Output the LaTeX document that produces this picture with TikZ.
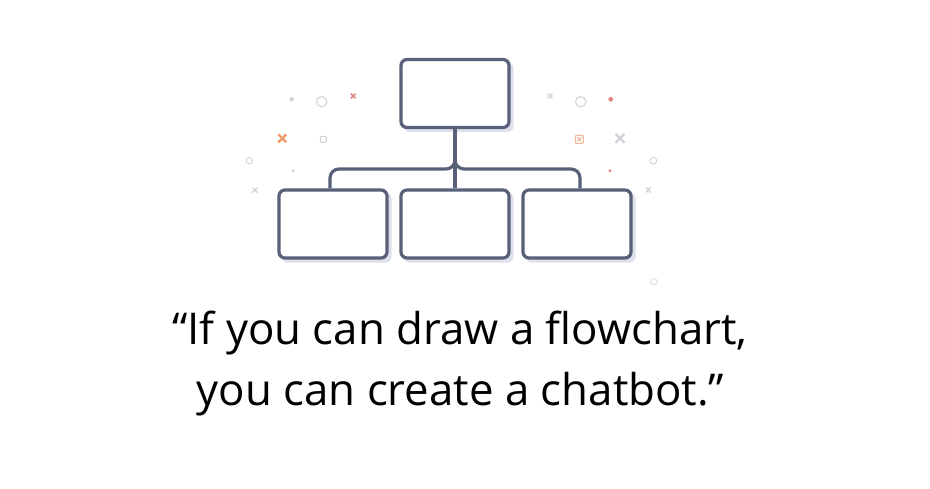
\documentclass[tikz,border=0pt]{standalone}
\usepackage{fontspec}
\setmainfont{Open Sans}
\definecolor{linec}{RGB}{88,96,122}
\definecolor{shadowc}{RGB}{222,225,236}
\definecolor{grayd}{RGB}{208,210,216}
\definecolor{redd}{RGB}{222,138,128}
\definecolor{orangd}{RGB}{240,158,108}
\definecolor{orangl}{RGB}{238,184,156}
\tikzset{
  box/.style={draw=linec, line width=3.2pt, fill=white, rounded corners=6pt,
    minimum width=108pt, minimum height=68pt, inner sep=0pt},
  shadowbox/.style={fill=shadowc, rounded corners=6pt, minimum width=110pt,
    minimum height=70pt, inner sep=0pt},
  conn/.style={draw=linec, line width=3.2pt},
  quote/.style={font=\fontsize{43.8}{61}\selectfont, text=black, anchor=base, inner sep=0pt},
}
\begin{document}
\begin{tikzpicture}[x=1pt,y=-1pt]
\useasboundingbox (0,0) rectangle (930,488);
\fill[white] (0,0) rectangle (930,488);
% shadows
\foreach \cx/\cy in {455/93.5, 333/224, 455/224, 577/224}{
  \node[shadowbox] at (\cx+3.5,\cy+3.5) {};
}
% boxes
\node[box] (top) at (455,93.5) {};
\node[box] (bl) at (333,224) {};
\node[box] (bm) at (455,224) {};
\node[box] (br) at (577,224) {};
\coordinate (j) at (455,169);
% connectors
\draw[conn] (top.south) -- (bm.north);
\draw[conn, rounded corners=9pt] ([xshift=-3pt]bl.north) |- (j) -- (top.south);
\draw[conn, rounded corners=9pt] ([xshift=3pt]br.north) |- (j) -- (top.south);
% decorations left
\fill[grayd] (291.7,99.3) circle (2.2);
\draw[grayd, line width=1pt] (321.7,101.7) circle (5.2);
\draw[redd, line width=1.5pt] (351,93.7) -- (355.6,98.3) (351,98.3) -- (355.6,93.7);
\draw[orangd, line width=2.4pt] (278.3,134.3) -- (286.3,142.3) (278.3,142.3) -- (286.3,134.3);
\draw[grayd, line width=0.9pt, rounded corners=1pt] (320.3,136.3) rectangle (326.3,142.3);
\draw[grayd, line width=0.9pt] (249.3,160.7) circle (3.2);
\fill[grayd] (293.3,170.7) circle (1.6);
\draw[grayd, line width=1.3pt] (252.5,187.5) -- (257.5,192.5) (252.5,192.5) -- (257.5,187.5);
% decorations right
\draw[grayd, line width=1.3pt] (547.5,93.5) -- (552.5,98.5) (547.5,98.5) -- (552.5,93.5);
\draw[grayd, line width=1pt] (580.7,101.7) circle (5.2);
\fill[redd] (610.7,99.3) circle (2.4);
\draw[orangl, line width=1.1pt, rounded corners=1pt] (575.3,135.3) rectangle (583.3,143.3);
\draw[orangl, line width=1.1pt] (577.3,137.3) -- (581.3,141.3) (577.3,141.3) -- (581.3,137.3);
\draw[grayd, line width=2.2pt] (615.5,133.8) -- (624.5,142.8) (615.5,142.8) -- (624.5,133.8);
\draw[grayd, line width=0.9pt] (653.3,160.7) circle (3.4);
\fill[redd] (610,170.7) circle (1.6);
\draw[grayd, line width=1.3pt] (645.8,187.5) -- (650.8,192.5) (645.8,192.5) -- (650.8,187.5);
\draw[grayd!70, line width=0.9pt] (654,281.7) circle (3.2);
% text
\node[quote] (t1) at (460,344) {“If you can draw a flowchart,};
\node[quote] (t2) at (460.5,405) {you can create a chatbot.”};
\end{tikzpicture}
\end{document}
